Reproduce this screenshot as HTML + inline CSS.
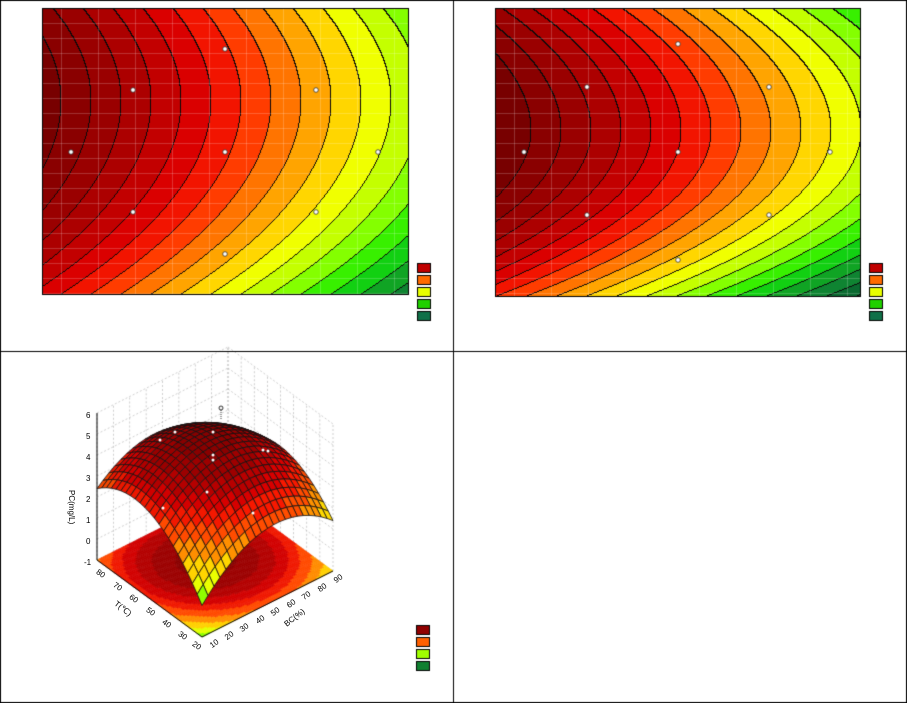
<!DOCTYPE html>
<html><head><meta charset="utf-8">
<style>
html,body{margin:0;padding:0;background:#fff;}
body{width:907px;height:703px;position:relative;overflow:hidden;font-family:"Liberation Sans",sans-serif;}
canvas{position:absolute;left:0;top:0;}
.t{position:absolute;font-size:8px;color:#000;white-space:nowrap;line-height:1;}
</style></head><body>
<canvas id="c" width="907" height="703"></canvas>
<div class="t" style="left:86px;top:412px">6</div>
<div class="t" style="left:86px;top:433px">5</div>
<div class="t" style="left:86px;top:454px">4</div>
<div class="t" style="left:86px;top:475px">3</div>
<div class="t" style="left:86px;top:496px">2</div>
<div class="t" style="left:86px;top:517px">1</div>
<div class="t" style="left:86px;top:538px">0</div>
<div class="t" style="left:84px;top:559px">-1</div>
<div class="t" style="top:490px;transform:rotate(90deg);transform-origin:0 0;left:75px;">PC(mg/L)</div>
<div class="t" style="left:96px;top:570px;transform:rotate(35deg)">80</div>
<div class="t" style="left:113px;top:583px;transform:rotate(35deg)">70</div>
<div class="t" style="left:129px;top:595px;transform:rotate(35deg)">60</div>
<div class="t" style="left:146px;top:608px;transform:rotate(35deg)">50</div>
<div class="t" style="left:162px;top:620px;transform:rotate(35deg)">40</div>
<div class="t" style="left:178px;top:632px;transform:rotate(35deg)">30</div>
<div class="t" style="left:192px;top:642px;transform:rotate(35deg)">20</div>
<div class="t" style="left:113px;top:605px;transform:rotate(38deg)">T(℃)</div>
<div class="t" style="left:210px;top:640px;transform:rotate(-35deg)">10</div>
<div class="t" style="left:225px;top:632px;transform:rotate(-35deg)">20</div>
<div class="t" style="left:240px;top:624px;transform:rotate(-35deg)">30</div>
<div class="t" style="left:256px;top:616px;transform:rotate(-35deg)">40</div>
<div class="t" style="left:271px;top:608px;transform:rotate(-35deg)">50</div>
<div class="t" style="left:287px;top:600px;transform:rotate(-35deg)">60</div>
<div class="t" style="left:302px;top:592px;transform:rotate(-35deg)">70</div>
<div class="t" style="left:318px;top:584px;transform:rotate(-35deg)">80</div>
<div class="t" style="left:334px;top:575px;transform:rotate(-35deg)">90</div>
<div class="t" style="left:283px;top:614px;transform:rotate(-38deg)">BC(%)</div>
<script>
var cv=document.getElementById('c'),ctx=cv.getContext('2d');
ctx.fillStyle='#fff';ctx.fillRect(0,0,907,703);
function hex(h){return [parseInt(h.substr(1,2),16),parseInt(h.substr(3,2),16),parseInt(h.substr(5,2),16)];}
var pal=['#780000','#8a0000','#9a0000','#ac0000','#c20000','#da0000','#f21400','#ff3c00','#ff7400','#ffa400','#ffd600','#f0ff00','#c4ff00','#84ff00','#38f000','#12d012','#10a424','#0f8432','#0a6a30','#085a2a'].map(hex);
function contour(x0,y0,w,h,v0,off,aT,aB){
  var img=ctx.createImageData(w,h),d=img.data,B=new Int16Array(w*h);
  for(var v=0;v<h;v++){var dv=v-v0,sh=dv<0?aT*dv*dv:aB*dv*dv;
    for(var u=0;u<w;u++){var L=u+sh;var b=Math.floor((L-off)/30)+1;if(b<0)b=0;if(b>=pal.length)b=pal.length-1;B[v*w+u]=b;}}
  for(var v=0;v<h;v++)for(var u=0;u<w;u++){var i=v*w+u,b=B[i],c=pal[b];
    var edge=(u<w-1&&B[i+1]!=b)||(v<h-1&&B[i+w]!=b);
    var k=i*4;if(edge){d[k]=10;d[k+1]=10;d[k+2]=10;}else{d[k]=c[0];d[k+1]=c[1];d[k+2]=c[2];}d[k+3]=255;}
  ctx.putImageData(img,x0,y0);
  ctx.strokeStyle='rgba(255,255,255,0.2)';ctx.lineWidth=1;
  for(var gx=x0+19;gx<x0+w;gx+=37){ctx.beginPath();ctx.moveTo(gx+.5,y0);ctx.lineTo(gx+.5,y0+h);ctx.stroke();}
  for(var gy=y0+15;gy<y0+h;gy+=15){ctx.beginPath();ctx.moveTo(x0,gy+.5);ctx.lineTo(x0+w,gy+.5);ctx.stroke();}
  ctx.strokeStyle='#000';ctx.strokeRect(x0+.5,y0+.5,w-1,h-1);
}
contour(42,8,367,287,92,19,0.0045,0.004);
contour(495,8,366,289,122,36,0.006,0.0078);
function dot(x,y){ctx.beginPath();ctx.arc(x,y,2.3,0,7);ctx.fillStyle='#fff';ctx.fill();ctx.strokeStyle='#333';ctx.lineWidth=0.8;ctx.stroke();}
[[133,90],[225,49],[316,90],[71,152],[225,152],[378,152],[133,212],[316,212],[225,254]].forEach(function(p){dot(p[0],p[1]);});
[[587,87],[678,44],[769,87],[524,152],[678,152],[830,152],[587,215],[769,215],[678,260]].forEach(function(p){dot(p[0],p[1]);});
function legend(x,y,cols){cols.forEach(function(c,i){ctx.fillStyle=c;ctx.fillRect(x,y+i*12,13,9);ctx.strokeStyle='#000';ctx.lineWidth=1;ctx.strokeRect(x+.5,y+i*12+.5,13,9);});}
legend(417,263,['#c00000','#ff6a00','#e8ff00','#20d000','#107048']);
legend(869,263,['#c00000','#ff6a00','#e8ff00','#20d000','#107048']);
legend(416,625,['#900000','#ff6000','#a0ff00','#108030']);
var F=[202,637],Lc=[97,560],R=[333,571],S=21;
function P(s,t,z){return [F[0]+s*(Lc[0]-F[0])+t*(R[0]-F[0]),F[1]+s*(Lc[1]-F[1])+t*(R[1]-F[1])-(z+1)*S];}
function Z(s,t){return 0.5*(1-s)*(1-t)+2.4*s*(1-t)+1.4*(1-s)*t+1.5*s*t+6.6*s*(1-s)+6.6*t*(1-t);}
var zt=[[4.6,'#8a0000'],[4.2,'#9c0000'],[3.8,'#b40000'],[3.4,'#d20000'],[3,'#f01800'],[2.5,'#ff4a00'],[2,'#ff8c00'],[1.5,'#ffd000'],[1,'#e4ff00'],[0.5,'#8cff00'],[0,'#28e000'],[-9,'#0e8a30']];
function zc(z){for(var i=0;i<zt.length;i++)if(z>=zt[i][0])return hex(zt[i][1]);}
ctx.strokeStyle='#bbb';ctx.lineWidth=0.7;ctx.setLineDash([2,2]);
function ln(a,b){ctx.beginPath();ctx.moveTo(a[0],a[1]);ctx.lineTo(b[0],b[1]);ctx.stroke();}
for(var z=-1;z<=6;z++){ln(P(1,0,z),P(1,1,z));ln(P(1,1,z),P(0,1,z));}
for(var i=0;i<=8;i++){var q=i/8;ln(P(1,q,-1),P(1,q,6));ln(P(q,1,-1),P(q,1,6));}
ctx.setLineDash([]);
var N=60;
for(var i=0;i<N;i++)for(var j=0;j<N;j++){var s=i/N,t=j/N,s2=(i+1)/N,t2=(j+1)/N;var c=zc(Z(s+.5/N,t+.5/N));
 ctx.fillStyle='rgb('+c[0]+','+c[1]+','+c[2]+')';var a=P(s,t,-1),b=P(s2,t,-1),cc=P(s2,t2,-1),d=P(s,t2,-1);
 ctx.beginPath();ctx.moveTo(a[0],a[1]);ctx.lineTo(b[0],b[1]);ctx.lineTo(cc[0],cc[1]);ctx.lineTo(d[0],d[1]);ctx.closePath();ctx.fill();ctx.strokeStyle=ctx.fillStyle;ctx.lineWidth=0.6;ctx.stroke();}
ctx.strokeStyle='#000';ctx.lineWidth=1;
ln(P(0,0,-1),P(1,0,-1));ln(P(0,0,-1),P(0,1,-1));ln(P(1,0,-1),P(1,0,6));
var M=22,qs=[];
for(var i=0;i<M;i++)for(var j=0;j<M;j++)qs.push([i,j]);
qs.sort(function(a,b){return (b[0]+b[1])-(a[0]+a[1]);});
qs.forEach(function(q){var s=q[0]/M,t=q[1]/M,s2=(q[0]+1)/M,t2=(q[1]+1)/M;
 var z1=Z(s,t),z2=Z(s2,t),z3=Z(s2,t2),z4=Z(s,t2);var zm=(z1+z2+z3+z4)/4;var c=zc(zm);
 var ds=(z2-z1+z3-z4)/2,dt=(z4-z1+z3-z2)/2;var f=1.0+0.12*ds-0.06*dt;f=Math.max(0.7,Math.min(1.15,f));
 var a=P(s,t,z1),b=P(s2,t,z2),cc=P(s2,t2,z3),d=P(s,t2,z4);
 ctx.fillStyle='rgb('+Math.min(255,c[0]*f|0)+','+Math.min(255,c[1]*f|0)+','+Math.min(255,c[2]*f|0)+')';
 ctx.beginPath();ctx.moveTo(a[0],a[1]);ctx.lineTo(b[0],b[1]);ctx.lineTo(cc[0],cc[1]);ctx.lineTo(d[0],d[1]);ctx.closePath();ctx.fill();
 ctx.strokeStyle='#111';ctx.lineWidth=0.8;ctx.stroke();});
ctx.fillStyle='#fff';
[[160,440],[175,432],[213,432],[213,455],[213,460],[207,492],[163,508],[253,513],[263,450],[268,451]].forEach(function(p){ctx.beginPath();ctx.arc(p[0],p[1],1.5,0,7);ctx.fill();});
ctx.strokeStyle='#000';ctx.setLineDash([1,1]);ln([221,410],[221,420]);ctx.setLineDash([]);
ctx.beginPath();ctx.arc(221,408,2,0,7);ctx.fillStyle='#fff';ctx.fill();ctx.lineWidth=0.8;ctx.stroke();
ctx.strokeStyle='#000';ctx.lineWidth=1;
ctx.strokeRect(0.5,0.5,906,702);
ln([453.5,0],[453.5,703]);ln([0,351.5],[907,351.5]);
</script>
</body></html>
